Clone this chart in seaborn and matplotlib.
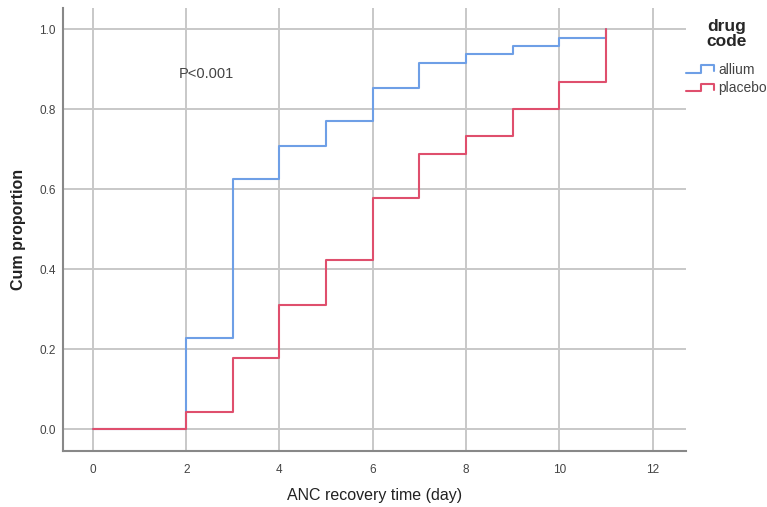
import matplotlib
matplotlib.use("Agg")
import matplotlib.pyplot as plt
import seaborn as sns
import pandas as pd
from matplotlib.legend_handler import HandlerBase
from matplotlib.lines import Line2D

# Data
times = [0, 2, 3, 4, 5, 6, 7, 8, 9, 10, 11]
allium = [0.0, 0.229, 0.625, 0.708, 0.771, 0.854, 0.917, 0.9375, 0.958, 0.979, 1.0]
placebo = [0.0, 0.044, 0.178, 0.311, 0.422, 0.578, 0.689, 0.733, 0.800, 0.867, 1.0]
groups = ["allium", "placebo"]
colors = {"allium": "#6e9fe6", "placebo": "#df4f6d"}
xticks = [0, 2, 4, 6, 8, 10, 12]
yticks = [0.0, 0.2, 0.4, 0.6, 0.8, 1.0]

df = pd.concat([
    pd.DataFrame({"time": times, "prop": allium, "drug code": "allium"}),
    pd.DataFrame({"time": times, "prop": placebo, "drug code": "placebo"}),
])

sns.set_theme(style="white")
plt.rcParams['font.family'] = ['Liberation Sans', 'DejaVu Sans']

fig = plt.figure(figsize=(7.67, 5.07), dpi=100)
ax = fig.add_axes([0.082, 0.110, 0.812, 0.874])

sns.lineplot(data=df, x="time", y="prop", hue="drug code", hue_order=groups,
             palette=colors, drawstyle="steps-post", linewidth=1.5, ax=ax,
             legend=False, sort=True, estimator=None)

ax.set_xlim(-0.643, 12.707)
ax.set_ylim(-0.055, 1.053)
ax.set_xticks(xticks)
ax.set_yticks(yticks)
ax.set_xticklabels([str(t) for t in xticks])
ax.set_yticklabels([f"{t:.1f}" for t in yticks])
ax.grid(True, color="#c8c8c8", linewidth=1.4)
ax.set_axisbelow(True)
for s in ["top", "right"]:
    ax.spines[s].set_visible(False)
for s in ["left", "bottom"]:
    ax.spines[s].set_color("#888888")
    ax.spines[s].set_linewidth(1.5)
ax.tick_params(axis="both", length=0, labelsize=8.5, colors="#444444")
ax.tick_params(axis="x", pad=9)
ax.tick_params(axis="y", pad=5)
ax.set_xlabel("ANC recovery time (day)", fontsize=11.5, color="#222222")
ax.set_ylabel("Cum proportion", fontsize=11.5, color="#222222", fontweight="bold")
ax.xaxis.set_label_coords(0.5, -0.099)
ax.xaxis.label.set_va("center")
ax.yaxis.set_label_coords(-0.072, 0.5)
ax.yaxis.label.set_va("center")

ax.text(2.44, 0.889, "P<0.001", fontsize=10.5, color="#444444", ha="center", va="center")


class StepHandler(HandlerBase):
    def create_artists(self, legend, orig_handle, xdescent, ydescent, width, height, fontsize, trans):
        x0 = -xdescent
        y0 = -ydescent + height * 0.1
        y1 = -ydescent + height * 0.85
        xs = [x0, x0 + width * 0.55, x0 + width * 0.55, x0 + width, x0 + width]
        ys = [y0, y0, y1, y1, y0 + (y1 - y0) * 0.2]
        line = Line2D(xs, ys, color=orig_handle.get_color(), linewidth=1.5)
        line.set_transform(trans)
        return [line]


handles = [Line2D([], [], color=colors[g]) for g in groups]
leg = fig.legend(handles, groups, title="drug\ncode", loc="upper left",
                 bbox_to_anchor=(0.8945, 0.962), frameon=False, fontsize=10,
                 handler_map={Line2D: StepHandler()}, handlelength=2.0,
                 handletextpad=0.3, labelspacing=0.35, borderaxespad=0.0,
                 borderpad=0.0)
leg.get_title().set_fontweight("bold")
leg.get_title().set_fontsize(12.5)
leg.get_title().set_multialignment("center")
leg.get_title().set_linespacing(0.95)
leg._legend_box.sep = 10
for t in leg.get_texts():
    t.set_color("#444444")

fig.savefig("out.png", dpi=100)
